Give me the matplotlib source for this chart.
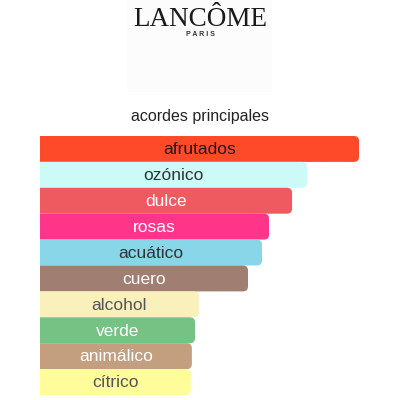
import matplotlib.pyplot as plt
from matplotlib.patches import FancyBboxPatch, Rectangle

plt.rcParams['font.family'] = ['Liberation Sans', 'DejaVu Sans']

# Chart data
accords = ['afrutados', 'ozónico', 'dulce', 'rosas', 'acuático',
           'cuero', 'alcohol', 'verde', 'animálico', 'cítrico']
strength = [100, 83.7, 79.0, 71.8, 69.6, 65.2, 49.8, 48.6, 47.6, 47.3]
bar_colors = ['#ff4a2a', '#ccfaf7', '#ee5a60', '#ff358a', '#89d6e8',
              '#a07e72', '#f9f0bc', '#76c285', '#c39e7f', '#fefd9a']
text_colors = ['#1a1a1a', '#333333', '#ffffff', '#ffffff', '#333333',
               '#ffffff', '#555555', '#ffffff', '#ffffff', '#555555']

fig = plt.figure(figsize=(4, 4), dpi=100)
fig.patch.set_facecolor('white')

# faint box behind the brand logo
fig.patches.append(Rectangle((127 / 400, 1 - 92 / 400), 145 / 400, 92 / 400,
                             transform=fig.transFigure, facecolor='#fcfcfc',
                             edgecolor='none', zorder=0))
fig.text(0.5, 1 - 19 / 400, 'LANCÔME', family='Liberation Serif',
         fontsize=19.5, ha='center', va='center', color='#1a1a1a')
fig.text(0.5, 1 - 35 / 400, 'P A R I S', fontsize=5, fontweight='bold',
         ha='center', va='center', color='#333333')

fig.text(0.5, 1 - 117 / 400, 'acordes principales', fontsize=11.5,
         ha='center', va='center', color='#222222')

ax = fig.add_axes([40 / 400, 5 / 400, 320 / 400, 259 / 400])
ax.set_xlim(0, 100.3)
ax.set_ylim(len(accords) - 0.5, -0.5)
ax.axis('off')

# rounded right corners, radius ~5 px
aspect = (1 / 25.9) / (100.3 / 320)
for i, (name, val) in enumerate(zip(accords, strength)):
    box = FancyBboxPatch((-5, i - 0.5), val + 5, 1.0,
                         boxstyle='round,pad=0,rounding_size=1.6',
                         mutation_aspect=aspect,
                         facecolor=bar_colors[i], edgecolor='none')
    ax.add_patch(box)
    ax.text(val / 2, i + 0.03, name, ha='center', va='center',
            fontsize=12.5, color=text_colors[i])

plt.savefig('out.png', dpi=100)
